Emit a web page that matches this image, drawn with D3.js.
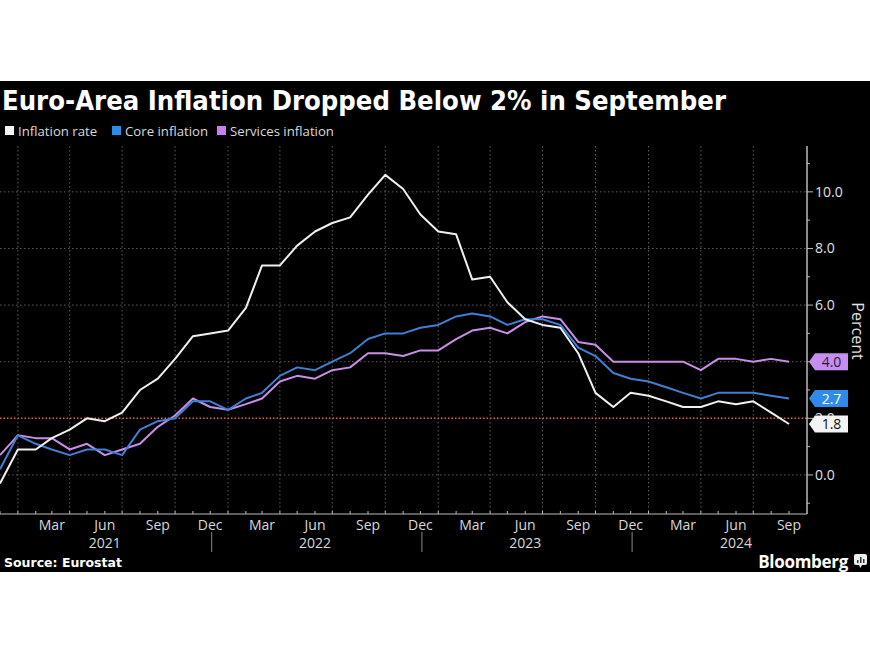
<!DOCTYPE html>
<html><head><meta charset="utf-8">
<script src="https://cdn.jsdelivr.net/npm/d3@7"></script>
<style>
html,body{margin:0;padding:0;background:#fff;}
svg{display:block;}
</style></head>
<body>
<script>
// ---------- DATA ----------
const months = ["2020-12","2021-01","2021-02","2021-03","2021-04","2021-05","2021-06","2021-07","2021-08","2021-09","2021-10","2021-11","2021-12",
"2022-01","2022-02","2022-03","2022-04","2022-05","2022-06","2022-07","2022-08","2022-09","2022-10","2022-11","2022-12",
"2023-01","2023-02","2023-03","2023-04","2023-05","2023-06","2023-07","2023-08","2023-09","2023-10","2023-11","2023-12",
"2024-01","2024-02","2024-03","2024-04","2024-05","2024-06","2024-07","2024-08","2024-09"];
const inflationRate = [-0.3,0.9,0.9,1.3,1.6,2.0,1.9,2.2,3.0,3.4,4.1,4.9,5.0,
5.1,5.9,7.4,7.4,8.1,8.6,8.9,9.1,9.9,10.6,10.1,9.2,
8.6,8.5,6.9,7.0,6.1,5.5,5.3,5.2,4.3,2.9,2.4,2.9,
2.8,2.6,2.4,2.4,2.6,2.5,2.6,2.2,1.8];
const coreInflation = [0.2,1.4,1.1,0.9,0.7,0.9,0.9,0.7,1.6,1.9,2.0,2.6,2.6,
2.3,2.7,2.9,3.5,3.8,3.7,4.0,4.3,4.8,5.0,5.0,5.2,
5.3,5.6,5.7,5.6,5.3,5.5,5.5,5.3,4.5,4.2,3.6,3.4,
3.3,3.1,2.9,2.7,2.9,2.9,2.9,2.8,2.7];
const servicesInflation = [0.7,1.4,1.3,1.3,0.9,1.1,0.7,0.9,1.1,1.7,2.1,2.7,2.4,
2.3,2.5,2.7,3.3,3.5,3.4,3.7,3.8,4.3,4.3,4.2,4.4,
4.4,4.8,5.1,5.2,5.0,5.4,5.6,5.5,4.7,4.6,4.0,4.0,
4.0,4.0,4.0,3.7,4.1,4.1,4.0,4.1,4.0];
const seriesNames = ["Inflation rate","Core inflation","Services inflation"];
const yTickValues = [0,2,4,6,8,10];
const yMinorValues = [-1,1,3,5,7,9,11];
const xMonthLabels = ["2021-03","2021-06","2021-09","2021-12","2022-03","2022-06","2022-09","2022-12","2023-03","2023-06","2023-09","2023-12","2024-03","2024-06","2024-09"];
const yearLabels = [["2021","2021-06"],["2022","2022-06"],["2023","2023-06"],["2024","2024-06"]];
const yearSeparators = ["2021-12","2022-12","2023-12"];
const targetLine = 2.0;
const titleText = "Euro-Area Inflation Dropped Below 2% in September";
const sourceText = "Source: Eurostat";

// ---------- SETUP ----------
const W = 870, H = 653;
const parse = d3.timeParse("%Y-%m");
const dates = months.map(parse);
const colors = ["#f0f0f0","#3f7fd6","#c98ee8"];
const legendColors = ["#f4f4f4","#2e8ce8","#c47ff0"];
const boxColors = ["#f4f4f4","#2e8ce8","#c78ef0"];
const boxText = ["#111","#fff","#2a1838"];

const svg = d3.select("body").append("svg").attr("width",W).attr("height",H);
svg.append("rect").attr("x",0).attr("y",0).attr("width",W).attr("height",H).attr("fill","#fff");
svg.append("rect").attr("x",0).attr("y",81).attr("width",W).attr("height",491).attr("fill","#000");

const plotL = 0, plotR = 807, plotT = 146, plotB = 514;
const x = d3.scaleTime().domain([parse("2020-12"), parse("2024-09")]).range([0, 789]);
const y = d3.scaleLinear().domain([-1.38, 11.62]).range([plotB, plotT]);

// title
svg.append("text").attr("x",2).attr("y",110).text(titleText)
  .attr("fill","#fff").attr("font-family","DejaVu Sans").attr("font-weight","bold")
  .attr("font-size",26).attr("textLength",724).attr("lengthAdjust","spacingAndGlyphs");

// legend
const legX = [5,112,217];
seriesNames.forEach((n,i)=>{
  svg.append("rect").attr("x",legX[i]).attr("y",126).attr("width",9).attr("height",9).attr("fill",legendColors[i]);
  svg.append("text").attr("x",legX[i]+13).attr("y",135.5).text(n)
    .attr("fill","#d8d8d8").attr("font-family","Open Sans").attr("font-size",13.2);
});

// grid
const g = svg.append("g");
const quarterMonths = d3.timeMonth.every(3).range(parse("2020-12"), parse("2024-10"));
g.selectAll("line.vg").data(quarterMonths).join("line")
  .attr("x1",d=>x(d)).attr("x2",d=>x(d)).attr("y1",plotT).attr("y2",plotB)
  .attr("stroke","#5e5e5e").attr("stroke-width",1).attr("stroke-dasharray","1.5,2.5");
g.selectAll("line.hg").data(yTickValues.filter(v=>v!==targetLine)).join("line")
  .attr("x1",plotL).attr("x2",plotR).attr("y1",d=>y(d)).attr("y2",d=>y(d))
  .attr("stroke","#5e5e5e").attr("stroke-width",1).attr("stroke-dasharray","1.5,2.5");

// target line
svg.append("line").attr("x1",plotL).attr("x2",plotR).attr("y1",y(targetLine)).attr("y2",y(targetLine))
  .attr("stroke","#e8603c").attr("stroke-width",1.5).attr("stroke-dasharray","1.5,2");

// lines
const allSeries = [inflationRate, coreInflation, servicesInflation];
const line = d3.line().x((d,i)=>x(dates[i])).y(d=>y(d));
const drawOrder = [2,1,0];
drawOrder.forEach(i=>{
  svg.append("path").datum(allSeries[i]).attr("d",line)
    .attr("fill","none").attr("stroke",colors[i]).attr("stroke-width",2)
    .attr("stroke-linejoin","round");
});

// x axis
svg.append("line").attr("x1",0).attr("x2",plotR).attr("y1",plotB).attr("y2",plotB).attr("stroke","#bbb").attr("stroke-width",1);
const allMonths = d3.timeMonth.range(parse("2020-12"), parse("2024-10"));
svg.selectAll("line.xt").data(allMonths).join("line")
  .attr("x1",d=>x(d)).attr("x2",d=>x(d)).attr("y1",plotB-3).attr("y2",plotB)
  .attr("stroke","#bbb").attr("stroke-width",1);
const fmtM = d3.timeFormat("%b");
svg.selectAll("text.xm").data(xMonthLabels.map(parse)).join("text")
  .attr("x",d=>x(d)).attr("y",530).attr("text-anchor","middle").text(d=>fmtM(d))
  .attr("fill","#d8d8d8").attr("font-family","Open Sans").attr("font-size",14);
svg.selectAll("text.xy").data(yearLabels).join("text")
  .attr("x",d=>x(parse(d[1]))).attr("y",548).attr("text-anchor","middle").text(d=>d[0])
  .attr("fill","#d8d8d8").attr("font-family","Open Sans").attr("font-size",14);
svg.selectAll("line.ys").data(yearSeparators.map(parse)).join("line")
  .attr("x1",d=>x(d)+1.5).attr("x2",d=>x(d)+1.5).attr("y1",532).attr("y2",552)
  .attr("stroke","#888").attr("stroke-width",1);

// y axis
const lastVals = allSeries.map(s=>s[s.length-1]);
svg.append("line").attr("x1",plotR).attr("x2",plotR).attr("y1",plotT).attr("y2",plotB).attr("stroke","#bbb").attr("stroke-width",1.5);
svg.selectAll("line.yt").data(yTickValues).join("line")
  .attr("x1",plotR).attr("x2",plotR+6).attr("y1",d=>y(d)).attr("y2",d=>y(d)).attr("stroke","#bbb");
svg.selectAll("line.ym").data(yMinorValues).join("line")
  .attr("x1",plotR).attr("x2",plotR+3).attr("y1",d=>y(d)).attr("y2",d=>y(d)).attr("stroke","#bbb");
// tick labels fully hidden behind a callout box are not drawn
const visibleTicks = yTickValues.filter(v=>!lastVals.some(l=>Math.abs(l-v)<0.15));
svg.selectAll("text.yl").data(visibleTicks).join("text")
  .attr("x",plotR+8).attr("y",d=>y(d)+5).text(d=>d3.format(".1f")(d))
  .attr("fill","#e0e0e0").attr("font-family","Open Sans").attr("font-size",14);
svg.append("text").attr("transform",`translate(852,331) rotate(90)`).attr("text-anchor","middle")
  .text("Percent").attr("fill","#e0e0e0").attr("font-family","Open Sans").attr("font-size",16);

// callout labels
[2,1,0].forEach(i=>{
  const cy = y(lastVals[i]);
  const x0 = plotR+2, bx = x0+6, bw = 33, h = 17;
  const p = `M${x0},${cy} L${bx},${cy-h/2} L${bx+bw},${cy-h/2} L${bx+bw},${cy+h/2} L${bx},${cy+h/2} Z`;
  svg.append("path").attr("d",p).attr("fill",boxColors[i]);
  svg.append("text").attr("x",bx+bw/2).attr("y",cy+5).attr("text-anchor","middle")
    .text(d3.format(".1f")(lastVals[i])).attr("fill",boxText[i])
    .attr("font-family","Open Sans").attr("font-size",14);
});

// footer
svg.append("text").attr("x",4).attr("y",567).text(sourceText)
  .attr("fill","#fff").attr("font-family","DejaVu Sans").attr("font-weight","bold").attr("font-size",12.5);
svg.append("text").attr("x",848).attr("y",568).attr("text-anchor","end").text("Bloomberg")
  .attr("fill","#fff").attr("font-family","Open Sans").attr("font-weight","bold").attr("font-size",17).attr("letter-spacing",-0.3);
const ic = svg.append("g").attr("transform","translate(854,554)");
ic.append("rect").attr("x",0).attr("y",0).attr("width",13).attr("height",11).attr("rx",2).attr("fill","#eee");
ic.append("path").attr("d","M5,11 L6.5,14 L8,11 Z").attr("fill","#eee");
[[3,6,1.5],[6,3,1.5],[9,5,1.5]].forEach(b=>{
  ic.append("rect").attr("x",b[0]).attr("y",b[1]).attr("width",b[2]).attr("height",9-b[1]).attr("fill","#333");
});
</script>
</body></html>
